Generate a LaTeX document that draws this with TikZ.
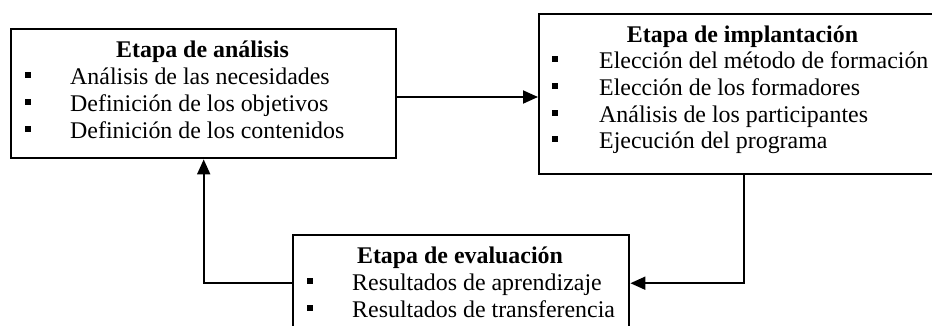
\documentclass[tikz,border=0pt]{standalone}
\usepackage{fontspec}
\setmainfont{Liberation Serif}
\usetikzlibrary{arrows.meta}
\tikzset{
  stagebox/.style={draw, line width=2.4pt, rectangle, inner sep=0pt, anchor=north west},
  txt/.style={inner sep=0pt, font=\fontsize{23.9}{27}\selectfont, anchor=base west},
  ttl/.style={inner sep=0pt, font=\fontsize{23.9}{27}\selectfont\bfseries, anchor=base},
  bul/.style={fill=black, rectangle, minimum size=6.5pt, inner sep=0pt},
  conn/.style={line width=1.9pt, -{Triangle[length=15pt,width=13pt]}}
}
\begin{document}
\begin{tikzpicture}[x=1pt,y=1pt]
\clip (0,0) rectangle (932,-325);
\fill[white] (0,0) rectangle (932,-325);
% boxes
\node[stagebox, minimum width=385pt, minimum height=129pt] (A) at (10,-28) {};
\node[stagebox, minimum width=409pt, minimum height=160pt] (B) at (538,-13) {};
\node[stagebox, minimum width=336pt, minimum height=96pt] (C) at (292,-234) {};
% left box text
\node[ttl] (At) at (202.5,-57) {Etapa de análisis};
\node[bul] (Ab1) at (28,-75) {};
\node[txt] (A1) at (70,-84) {Análisis de las necesidades};
\node[bul] (Ab2) at (28,-102) {};
\node[txt] (A2) at (70,-111) {Definición de los objetivos};
\node[bul] (Ab3) at (28,-129) {};
\node[txt] (A3) at (70,-138) {Definición de los contenidos};
% right box text
\node[ttl] (Bt) at (742.5,-42) {Etapa de implantación};
\node[bul] (Bb1) at (555,-59) {};
\node[txt] (B1) at (599,-68) {Elección del método de formación};
\node[bul] (Bb2) at (555,-86) {};
\node[txt] (B2) at (599,-95) {Elección de los formadores};
\node[bul] (Bb3) at (555,-113) {};
\node[txt] (B3) at (599,-122) {Análisis de los participantes};
\node[bul] (Bb4) at (555,-139) {};
\node[txt] (B4) at (599,-148) {Ejecución del programa};
% bottom box text
\node[ttl] (Ct) at (460,-263) {Etapa de evaluación};
\node[bul] (Cb1) at (310,-281) {};
\node[txt] (C1) at (352,-290) {Resultados de aprendizaje};
\node[bul] (Cb2) at (310,-308) {};
\node[txt] (C2) at (352,-317) {Resultados de transferencia};
% connectors
\coordinate (ab) at (395,-97);
\draw[conn] (ab) -- (ab -| B.west);
\draw[conn] (B.south) |- (C.east);
\draw[conn] (C.west) -| (A.south);
\end{tikzpicture}
\end{document}
